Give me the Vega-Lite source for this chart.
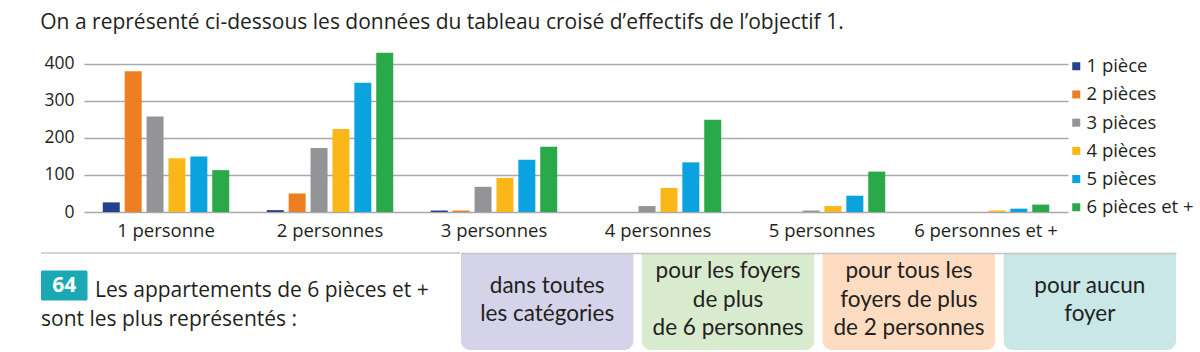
{
  "$schema": "https://vega.github.io/schema/vega-lite/v6.json",
  "background": "white",
  "padding": {"left": 40, "top": 12, "right": 0, "bottom": 0},
  "config": {"font": "Open Sans", "view": {"stroke": null}},
  "title": {
    "text": "On a représenté ci-dessous les données du tableau croisé d’effectifs de l’objectif 1.",
    "anchor": "start",
    "fontSize": 21,
    "fontWeight": "normal",
    "color": "#231f20",
    "offset": 16
  },
  "spacing": 12,
  "vconcat": [
    {
      "width": 984,
      "height": 163,
      "data": {
        "values": [
          {"foyer": "1 personne", "pieces": "1 pièce", "effectif": 26},
          {"foyer": "1 personne", "pieces": "2 pièces", "effectif": 380},
          {"foyer": "1 personne", "pieces": "3 pièces", "effectif": 258},
          {"foyer": "1 personne", "pieces": "4 pièces", "effectif": 145},
          {"foyer": "1 personne", "pieces": "5 pièces", "effectif": 150},
          {"foyer": "1 personne", "pieces": "6 pièces et +", "effectif": 113},
          {"foyer": "2 personnes", "pieces": "1 pièce", "effectif": 5},
          {"foyer": "2 personnes", "pieces": "2 pièces", "effectif": 50},
          {"foyer": "2 personnes", "pieces": "3 pièces", "effectif": 173},
          {"foyer": "2 personnes", "pieces": "4 pièces", "effectif": 224},
          {"foyer": "2 personnes", "pieces": "5 pièces", "effectif": 349},
          {"foyer": "2 personnes", "pieces": "6 pièces et +", "effectif": 430},
          {"foyer": "3 personnes", "pieces": "1 pièce", "effectif": 4},
          {"foyer": "3 personnes", "pieces": "2 pièces", "effectif": 4},
          {"foyer": "3 personnes", "pieces": "3 pièces", "effectif": 68},
          {"foyer": "3 personnes", "pieces": "4 pièces", "effectif": 92},
          {"foyer": "3 personnes", "pieces": "5 pièces", "effectif": 141},
          {"foyer": "3 personnes", "pieces": "6 pièces et +", "effectif": 176},
          {"foyer": "4 personnes", "pieces": "1 pièce", "effectif": 0},
          {"foyer": "4 personnes", "pieces": "2 pièces", "effectif": 0},
          {"foyer": "4 personnes", "pieces": "3 pièces", "effectif": 16},
          {"foyer": "4 personnes", "pieces": "4 pièces", "effectif": 65},
          {"foyer": "4 personnes", "pieces": "5 pièces", "effectif": 134},
          {"foyer": "4 personnes", "pieces": "6 pièces et +", "effectif": 249},
          {"foyer": "5 personnes", "pieces": "1 pièce", "effectif": 0},
          {"foyer": "5 personnes", "pieces": "2 pièces", "effectif": 0},
          {"foyer": "5 personnes", "pieces": "3 pièces", "effectif": 4},
          {"foyer": "5 personnes", "pieces": "4 pièces", "effectif": 16},
          {"foyer": "5 personnes", "pieces": "5 pièces", "effectif": 44},
          {"foyer": "5 personnes", "pieces": "6 pièces et +", "effectif": 109},
          {"foyer": "6 personnes et +", "pieces": "1 pièce", "effectif": 0},
          {"foyer": "6 personnes et +", "pieces": "2 pièces", "effectif": 0},
          {"foyer": "6 personnes et +", "pieces": "3 pièces", "effectif": 0},
          {"foyer": "6 personnes et +", "pieces": "4 pièces", "effectif": 4},
          {"foyer": "6 personnes et +", "pieces": "5 pièces", "effectif": 9},
          {"foyer": "6 personnes et +", "pieces": "6 pièces et +", "effectif": 20}
        ]
      },
      "mark": {"type": "bar"},
      "encoding": {
        "x": {
          "field": "foyer",
          "type": "nominal",
          "sort": ["1 personne", "2 personnes", "3 personnes", "4 personnes", "5 personnes", "6 personnes et +"],
          "scale": {"paddingInner": 0.199, "paddingOuter": 0.0995},
          "axis": {
            "title": null,
            "labelAngle": 0,
            "ticks": false,
            "domain": false,
            "labelFontSize": 18.5,
            "labelColor": "#231f20",
            "labelPadding": 9
          }
        },
        "xOffset": {
          "field": "pieces",
          "type": "nominal",
          "sort": ["1 pièce", "2 pièces", "3 pièces", "4 pièces", "5 pièces", "6 pièces et +"],
          "scale": {"paddingInner": 0.224, "paddingOuter": 0.112}
        },
        "y": {
          "field": "effectif",
          "type": "quantitative",
          "scale": {"domain": [0, 440], "nice": false},
          "axis": {
            "title": null,
            "values": [0, 100, 200, 300, 400],
            "domain": false,
            "ticks": false,
            "gridColor": "#a9a9a9",
            "gridWidth": 1.5,
            "labelFontSize": 17.5,
            "labelColor": "#231f20",
            "labelPadding": 10,
            "minExtent": 43
          }
        },
        "color": {
          "field": "pieces",
          "type": "nominal",
          "sort": ["1 pièce", "2 pièces", "3 pièces", "4 pièces", "5 pièces", "6 pièces et +"],
          "scale": {
            "domain": ["1 pièce", "2 pièces", "3 pièces", "4 pièces", "5 pièces", "6 pièces et +"],
            "range": ["#24408f", "#ef7d22", "#929497", "#fbb617", "#0ba2e0", "#2aa94a"]
          },
          "legend": {
            "title": null,
            "orient": "none",
            "legendX": 983,
            "legendY": 8,
            "symbolType": "square",
            "symbolSize": 64,
            "symbolStrokeWidth": 0,
            "labelFontSize": 18.5,
            "labelColor": "#231f20",
            "labelOffset": 1,
            "rowPadding": 9.2,
            "padding": 0
          }
        }
      }
    },
    {
      "spacing": 0,
      "hconcat": [
        {
          "width": 376,
          "height": 97,
          "data": {"values": [{"num": "64", "l1": "Les appartements de 6 pièces et +", "l2": "sont les plus représentés :"}]},
          "layer": [
            {"mark": {"type": "rule", "color": "#c4c4c4", "strokeWidth": 1.5}, "encoding": {"x": {"value": -43}, "x2": {"value": 376}, "y": {"value": 0}}},
            {"mark": {"type": "rect", "color": "#19a8b4", "cornerRadius": 1.5}, "encoding": {"x": {"value": -43}, "x2": {"value": 3.5}, "y": {"value": 17.5}, "y2": {"value": 47.5}}},
            {"mark": {"type": "text", "color": "white", "fontSize": 21, "fontWeight": "bold", "align": "center", "baseline": "middle"}, "encoding": {"text": {"field": "num"}, "x": {"value": -19.7}, "y": {"value": 33}}},
            {"mark": {"type": "text", "color": "#231f20", "fontSize": 21, "align": "left", "baseline": "alphabetic"}, "encoding": {"text": {"field": "l1"}, "x": {"value": 11}, "y": {"value": 43.5}}},
            {"mark": {"type": "text", "color": "#231f20", "fontSize": 21, "align": "left", "baseline": "alphabetic"}, "encoding": {"text": {"field": "l2"}, "x": {"value": -43}, "y": {"value": 73}}}
          ]
        },
        {
          "width": 715,
          "height": 97,
          "data": {
            "values": [
              {"reponse": "dans toutes les catégories", "lignes": ["dans toutes", "les catégories"], "nb": 2},
              {"reponse": "pour les foyers de plus de 6 personnes", "lignes": ["pour les foyers", "de plus", "de 6 personnes"], "nb": 3},
              {"reponse": "pour tous les foyers de plus de 2 personnes", "lignes": ["pour tous les", "foyers de plus", "de 2 personnes"], "nb": 3},
              {"reponse": "pour aucun foyer", "lignes": ["pour aucun", "foyer"], "nb": 2}
            ]
          },
          "layer": [
            {
              "mark": {"type": "bar", "cornerRadiusBottomLeft": 9, "cornerRadiusBottomRight": 9},
              "encoding": {
                "x": {
                  "field": "reponse",
                  "type": "nominal",
                  "sort": null,
                  "scale": {"paddingInner": 0.047, "paddingOuter": 0},
                  "axis": {"orient": "top", "labels": false, "ticks": false, "title": null, "domainColor": "#c4c4c4", "domainWidth": 1.5, "zindex": 1}
                },
                "y": {"datum": 1, "type": "quantitative", "scale": {"domain": [0, 1], "nice": false}, "axis": null},
                "fill": {
                  "field": "reponse",
                  "type": "nominal",
                  "sort": null,
                  "scale": {"range": ["#d4d3ea", "#d9ebcf", "#fddcc1", "#c9e7e7"]},
                  "legend": null
                }
              }
            },
            {
              "transform": [{"filter": "datum.nb == 2"}],
              "mark": {"type": "text", "font": "Lato", "fontSize": 22.5, "lineHeight": 28.5, "baseline": "middle", "dy": -16, "color": "#231f20"},
              "encoding": {"x": {"field": "reponse", "type": "nominal", "sort": null}, "text": {"field": "lignes"}}
            },
            {
              "transform": [{"filter": "datum.nb == 3"}],
              "mark": {"type": "text", "font": "Lato", "fontSize": 22.5, "lineHeight": 28.5, "baseline": "middle", "dy": -30.5, "color": "#231f20"},
              "encoding": {"x": {"field": "reponse", "type": "nominal", "sort": null}, "text": {"field": "lignes"}}
            }
          ]
        }
      ]
    }
  ]
}
